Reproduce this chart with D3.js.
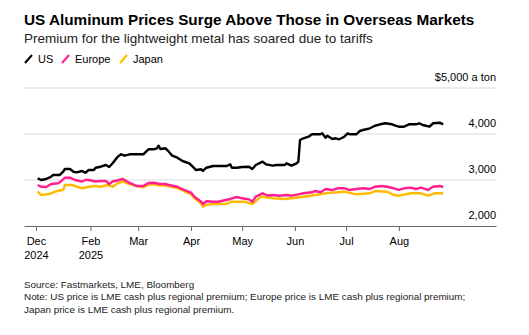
<!DOCTYPE html>
<html>
<head>
<meta charset="utf-8">
<script src="https://cdn.jsdelivr.net/npm/d3@7"></script>
<style>
  body { margin: 0; background: #fff; }
  svg { font-family: "Liberation Sans", Arial, sans-serif; }
</style>
</head>
<body>
<div id="chart"></div>
<script>
// Data (USD per ton)
var usDates = ["2025-01-01","2025-01-03","2025-01-06","2025-01-09","2025-01-10","2025-01-14","2025-01-16","2025-01-17","2025-01-20","2025-01-22","2025-01-24","2025-01-27","2025-01-29","2025-01-31","2025-02-03","2025-02-04","2025-02-07","2025-02-10","2025-02-12","2025-02-14","2025-02-17","2025-02-19","2025-02-21","2025-02-24","2025-02-28","2025-03-04","2025-03-07","2025-03-10","2025-03-12","2025-03-13","2025-03-14","2025-03-17","2025-03-19","2025-03-21","2025-03-24","2025-03-27","2025-03-31","2025-04-02","2025-04-04","2025-04-07","2025-04-08","2025-04-10","2025-04-14","2025-04-17","2025-04-22","2025-04-24","2025-04-25","2025-04-28","2025-05-01","2025-05-05","2025-05-07","2025-05-09","2025-05-13","2025-05-15","2025-05-19","2025-05-21","2025-05-26","2025-05-27","2025-05-30","2025-06-02","2025-06-03","2025-06-04","2025-06-06","2025-06-09","2025-06-11","2025-06-16","2025-06-17","2025-06-19","2025-06-20","2025-06-23","2025-06-25","2025-06-27","2025-06-30","2025-07-02","2025-07-03","2025-07-07","2025-07-09","2025-07-11","2025-07-15","2025-07-18","2025-07-21","2025-07-24","2025-07-28","2025-07-30","2025-08-01","2025-08-04","2025-08-07","2025-08-11","2025-08-13","2025-08-15","2025-08-19","2025-08-21","2025-08-25","2025-08-27"];
var usValues = [3037,3000,3022,3072,3109,3109,3180,3239,3239,3180,3167,3196,3159,3217,3217,3267,3289,3326,3283,3363,3507,3559,3528,3559,3559,3559,3667,3667,3689,3746,3674,3689,3615,3528,3485,3413,3363,3289,3217,3233,3196,3267,3304,3304,3304,3341,3267,3267,3283,3289,3239,3326,3398,3341,3311,3326,3326,3363,3311,3363,3398,3870,3907,3941,3994,3994,4015,3920,3963,3891,3907,3885,3941,4015,3994,3994,4065,4087,4124,4180,4211,4233,4211,4180,4159,4159,4211,4211,4233,4196,4159,4233,4246,4211];

var europeDates = ["2025-01-01","2025-01-03","2025-01-06","2025-01-09","2025-01-13","2025-01-15","2025-01-17","2025-01-20","2025-01-23","2025-01-27","2025-01-29","2025-01-31","2025-02-04","2025-02-07","2025-02-10","2025-02-12","2025-02-14","2025-02-18","2025-02-20","2025-02-24","2025-02-26","2025-02-28","2025-03-04","2025-03-07","2025-03-10","2025-03-14","2025-03-17","2025-03-19","2025-03-24","2025-03-28","2025-04-01","2025-04-03","2025-04-07","2025-04-08","2025-04-10","2025-04-14","2025-04-17","2025-04-24","2025-04-25","2025-04-28","2025-05-01","2025-05-05","2025-05-07","2025-05-09","2025-05-13","2025-05-16","2025-05-19","2025-05-23","2025-05-27","2025-05-30","2025-06-03","2025-06-06","2025-06-11","2025-06-13","2025-06-16","2025-06-19","2025-06-23","2025-06-26","2025-06-30","2025-07-03","2025-07-07","2025-07-11","2025-07-15","2025-07-18","2025-07-22","2025-07-25","2025-07-29","2025-08-01","2025-08-04","2025-08-08","2025-08-11","2025-08-14","2025-08-18","2025-08-21","2025-08-25","2025-08-27"];
var europeValues = [2891,2854,2848,2913,2928,2978,3050,3050,3000,2967,3000,3000,2967,2978,2978,2913,2967,3000,3022,2935,2907,2870,2870,2935,2941,2913,2913,2891,2854,2783,2728,2637,2528,2478,2537,2528,2528,2587,2602,2630,2602,2580,2528,2637,2711,2663,2674,2659,2674,2659,2689,2711,2733,2761,2733,2804,2783,2820,2820,2783,2804,2820,2804,2854,2870,2854,2820,2783,2820,2833,2804,2833,2783,2854,2870,2848];

var japanDates = ["2025-01-01","2025-01-03","2025-01-08","2025-01-13","2025-01-16","2025-01-17","2025-01-21","2025-01-27","2025-01-31","2025-02-04","2025-02-07","2025-02-11","2025-02-14","2025-02-17","2025-02-20","2025-02-24","2025-02-28","2025-03-04","2025-03-07","2025-03-10","2025-03-14","2025-03-17","2025-03-19","2025-03-24","2025-03-28","2025-04-01","2025-04-03","2025-04-07","2025-04-08","2025-04-10","2025-04-14","2025-04-21","2025-04-25","2025-05-02","2025-05-07","2025-05-12","2025-05-13","2025-05-19","2025-05-26","2025-05-30","2025-06-06","2025-06-16","2025-06-19","2025-06-26","2025-06-30","2025-07-07","2025-07-15","2025-07-18","2025-07-25","2025-07-29","2025-08-01","2025-08-08","2025-08-14","2025-08-18","2025-08-22","2025-08-27"];
var japanValues = [2746,2674,2696,2767,2783,2891,2891,2820,2854,2870,2854,2891,2854,2928,2963,2913,2870,2840,2900,2905,2880,2880,2860,2825,2755,2695,2600,2490,2420,2460,2478,2478,2528,2528,2478,2637,2637,2602,2587,2602,2637,2689,2711,2733,2746,2689,2711,2761,2746,2674,2659,2711,2711,2659,2711,2711];

var seriesNames = ["US", "Europe", "Japan"];
var seriesColors = ["#000000", "#ff1f8e", "#ffbb00"];

var tickDates = ["2024-12-31","2025-02-01","2025-03-01","2025-04-01","2025-05-01","2025-06-01","2025-07-01","2025-08-01"];
var tickMonths = ["Dec","Feb","Mar","Apr","May","Jun","Jul","Aug"];
var tickYears = ["2024","2025","","","","","",""];
var yTicks = [2000, 3000, 4000, 5000];

//Settings
var width = 529;
var height = 335;
var plotLeft = 24, plotRight = 496, plotTop = 88, plotBottom = 226;
var parse = d3.timeParse("%Y-%m-%d");

function pairs(dates, values) {
    return dates.map(function(d, i) { return {date: parse(d), value: values[i]}; });
}
var series = [pairs(usDates, usValues), pairs(europeDates, europeValues), pairs(japanDates, japanValues)];

var svg = d3.select("#chart").append("svg")
    .attr("width", width)
    .attr("height", height);

var x = d3.scaleTime()
    .domain([parse("2024-12-24"), parse("2025-09-27")])
    .range([plotLeft, plotRight]);

var y = d3.scaleLinear()
    .domain([2000, 5000])
    .range([plotBottom, plotTop]);

// Title block
svg.append("text")
    .attr("x", 24).attr("y", 25)
    .attr("font-size", 15.3).attr("font-weight", "bold").attr("fill", "#000")
    .text("US Aluminum Prices Surge Above Those in Overseas Markets");

svg.append("text")
    .attr("x", 24).attr("y", 43)
    .attr("font-size", 13.5).attr("fill", "#222")
    .text("Premium for the lightweight metal has soared due to tariffs");

// Legend
var legendX = [24, 61, 119];
var legend = svg.append("g").selectAll("g")
    .data(seriesNames)
    .enter().append("g")
    .attr("transform", function(d, i) { return "translate(" + legendX[i] + ",59)"; });

legend.append("line")
    .attr("x1", 1).attr("y1", 4).attr("x2", 8).attr("y2", -4)
    .attr("stroke", function(d, i) { return seriesColors[i]; })
    .attr("stroke-width", 2);

legend.append("text")
    .attr("x", 14).attr("y", 4)
    .attr("font-size", 11).attr("fill", "#000")
    .text(function(d) { return d; });

// Gridlines and y labels
svg.append("g").selectAll("line")
    .data(yTicks.slice(1))
    .enter().append("line")
    .attr("x1", plotLeft).attr("x2", plotRight)
    .attr("y1", function(d) { return y(d); })
    .attr("y2", function(d) { return y(d); })
    .attr("stroke", "#e6e6e6")
    .attr("stroke-width", 1.5);

svg.append("g").selectAll("text")
    .data(yTicks)
    .enter().append("text")
    .attr("x", plotRight).attr("y", function(d) { return y(d) - 7; })
    .attr("text-anchor", "end")
    .attr("font-size", 11).attr("fill", "#000")
    .text(function(d) { return d === 5000 ? "$5,000 a ton" : d3.format(",")(d); });

// Lines
var line = d3.line()
    .x(function(d) { return x(d.date); })
    .y(function(d) { return y(d.value); });

svg.append("g").selectAll("path")
    .data(series.slice().reverse())
    .enter().append("path")
    .attr("d", line)
    .attr("fill", "none")
    .attr("stroke", function(d, i) { return seriesColors[2 - i]; })
    .attr("stroke-width", 2.4)
    .attr("stroke-linejoin", "round");

//Setup time axis
var xAxis = d3.axisBottom()
    .scale(x)
    .tickValues(tickDates.map(parse))
    .tickSize(5)
    .tickSizeOuter(0)
    .tickFormat(function(d, i) { return tickMonths[i]; });

var xAxisGroup = svg.append("g")
    .attr("class", "xAxis")
    .attr("transform", "translate(0," + plotBottom + ")")
    .call(xAxis);

xAxisGroup.select(".domain").attr("stroke", "#666").attr("stroke-width", 1);
xAxisGroup.selectAll(".tick line").attr("stroke", "#666");
xAxisGroup.selectAll(".tick text")
    .attr("font-family", "Liberation Sans, Arial, sans-serif")
    .attr("font-size", 11).attr("fill", "#000")
    .attr("y", 11)
    .each(function(d, i) {
        if (tickYears[i]) {
            d3.select(this).append("tspan")
                .attr("x", 0).attr("dy", "1.25em")
                .text(tickYears[i]);
        }
    });

// Footnotes
var notes = ["Source: Fastmarkets, LME, Bloomberg",
    "Note: US price is LME cash plus regional premium; Europe price is LME cash plus regional premium;",
    "Japan price is LME cash plus regional premium."];
svg.append("g").selectAll("text")
    .data(notes)
    .enter().append("text")
    .attr("x", 24).attr("y", function(d, i) { return 288 + i * 12.3; })
    .attr("font-size", 9.9).attr("fill", "#222")
    .text(function(d) { return d; });
</script>
</body>
</html>
